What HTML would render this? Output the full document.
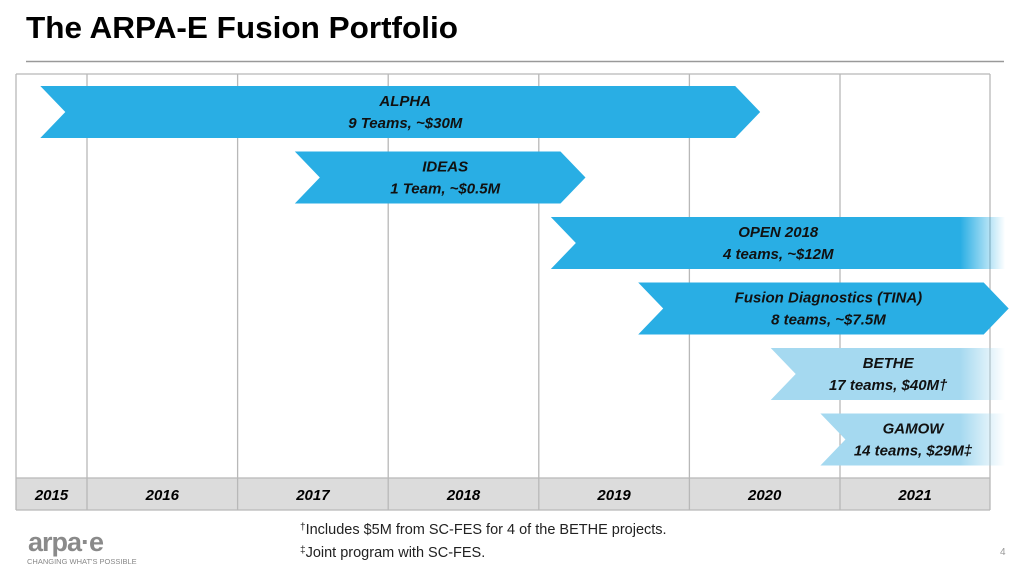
<!DOCTYPE html>
<html><head><meta charset="utf-8"><style>
body{margin:0;background:#fff;width:1024px;height:571px;overflow:hidden;font-family:"Liberation Sans",sans-serif}
</style></head><body>
<svg width="1024" height="571" viewBox="0 0 1024 571">
<defs>
<linearGradient id="fadeD" x1="0" x2="1"><stop offset="0" stop-color="#29aee4" stop-opacity="1"/><stop offset="1" stop-color="#29aee4" stop-opacity="0"/></linearGradient>
<linearGradient id="fadeL" x1="0" x2="1"><stop offset="0" stop-color="#a5d9f0" stop-opacity="1"/><stop offset="1" stop-color="#a5d9f0" stop-opacity="0"/></linearGradient>
</defs>
<text x="26" y="38" font-size="31" font-weight="bold" fill="#000" textLength="432" lengthAdjust="spacingAndGlyphs">The ARPA-E Fusion Portfolio</text>
<line x1="26" y1="61.5" x2="1004" y2="61.5" stroke="#999" stroke-width="1.5"/>
<rect x="16" y="478" width="974" height="32" fill="#dcdcdc"/>
<g id="grid"></g>
<g id="bars"></g>
<g id="years"></g>
<text x="300" y="534" font-size="14.5" fill="#222"><tspan font-size="10" dy="-4">†</tspan><tspan dy="4">Includes $5M from SC-FES for 4 of the BETHE projects.</tspan></text>
<text x="300" y="557" font-size="14.5" fill="#222"><tspan font-size="10" dy="-4">‡</tspan><tspan dy="4">Joint program with SC-FES.</tspan></text>
<text x="1000" y="555" font-size="10" fill="#999">4</text>
<g>
<text x="28" y="551" font-size="27" font-weight="bold" fill="#8a8a8a" letter-spacing="-1">arpa·e</text>
<text x="27" y="564" font-size="7.5" fill="#888">CHANGING WHAT'S POSSIBLE</text>
</g>
</svg>
<script>
const years=[2015,2016,2017,2018,2019,2020,2021];
const programs=["ALPHA","IDEAS","OPEN 2018","Fusion Diagnostics (TINA)","BETHE","GAMOW"];
const subtitles=["9 Teams, ~$30M","1 Team, ~$0.5M","4 teams, ~$12M","8 teams, ~$7.5M","17 teams, $40M†","14 teams, $29M‡"];
const starts=[2015.69,2017.38,2019.08,2019.66,2020.54,2020.87];
const ends=[2020.47,2019.31,2022.1,2022.12,2022.1,2022.1];
const shades=["dark","dark","dark","dark","light","light"];
const tips=["arrow","arrow","fade","arrow","fade","fade"];
const NS="http://www.w3.org/2000/svg";
const X0=16,X1=990,Y0=74,Y1=510,YR=478;
function xs(y){return 87+(y-2016)*150.6;}
function rowY(i){return 86+i*65.5;}
const grid=document.getElementById('grid');
function ln(x1,y1,x2,y2){const l=document.createElementNS(NS,'line');l.setAttribute('x1',x1);l.setAttribute('y1',y1);l.setAttribute('x2',x2);l.setAttribute('y2',y2);l.setAttribute('stroke','#b8b8b8');l.setAttribute('stroke-width','1.3');


grid.appendChild(l);}
ln(X0,Y0,X1,Y0);ln(X0,YR,X1,YR);ln(X0,Y1,X1,Y1);ln(X0,Y0,X0,Y1);ln(X1,Y0,X1,Y1);
for(let i=1;i<years.length;i++)ln(xs(years[i]),Y0,xs(years[i]),Y1);
const yg=document.getElementById('years');
years.forEach((y,i)=>{const l=i===0?X0:xs(y);const r=i===years.length-1?X1:xs(years[i+1]);
const t=document.createElementNS(NS,'text');t.setAttribute('x',(l+r)/2);t.setAttribute('y',500);t.setAttribute('text-anchor','middle');t.setAttribute('font-size','15');t.setAttribute('font-weight','bold');t.setAttribute('font-style','italic');t.textContent=y;


yg.appendChild(t);});
const bg=document.getElementById('bars');
programs.forEach((p,i)=>{const a=xs(starts[i]),b=xs(ends[i]),top=rowY(i),h=52,n=25;
const g=document.createElementNS(NS,'g');


const path=document.createElementNS(NS,'path');
const col=shades[i]==='dark'?'#29aee4':'#a5d9f0';
let d;
if(tips[i]==='arrow'){d=`M${a},${top} L${b-n},${top} L${b},${top+h/2} L${b-n},${top+h} L${a},${top+h} L${a+n},${top+h/2} Z`;path.setAttribute('fill',col);g.appendChild(path);path.setAttribute('d',d);}
else{const fs=b-45;d=`M${a},${top} L${fs},${top} L${fs},${top+h} L${a},${top+h} L${a+n},${top+h/2} Z`;path.setAttribute('d',d);path.setAttribute('fill',col);g.appendChild(path);
const r=document.createElementNS(NS,'rect');r.setAttribute('x',fs-0.5);r.setAttribute('y',top);r.setAttribute('width',45);r.setAttribute('height',h);r.setAttribute('fill',shades[i]==='dark'?'url(#fadeD)':'url(#fadeL)');g.appendChild(r);}
const cx=tips[i]==='arrow'?(a+n+b-n)/2+5:(a+n+b-45)/2+10;
[p,subtitles[i]].forEach((s,k)=>{const t=document.createElementNS(NS,'text');t.setAttribute('x',cx);t.setAttribute('y',top+20+k*22);t.setAttribute('text-anchor','middle');t.setAttribute('font-size','15');t.setAttribute('font-weight','bold');t.setAttribute('font-style','italic');t.setAttribute('fill','#111');t.textContent=s;


g.appendChild(t);});
bg.appendChild(g);});
</script>
</body></html>
